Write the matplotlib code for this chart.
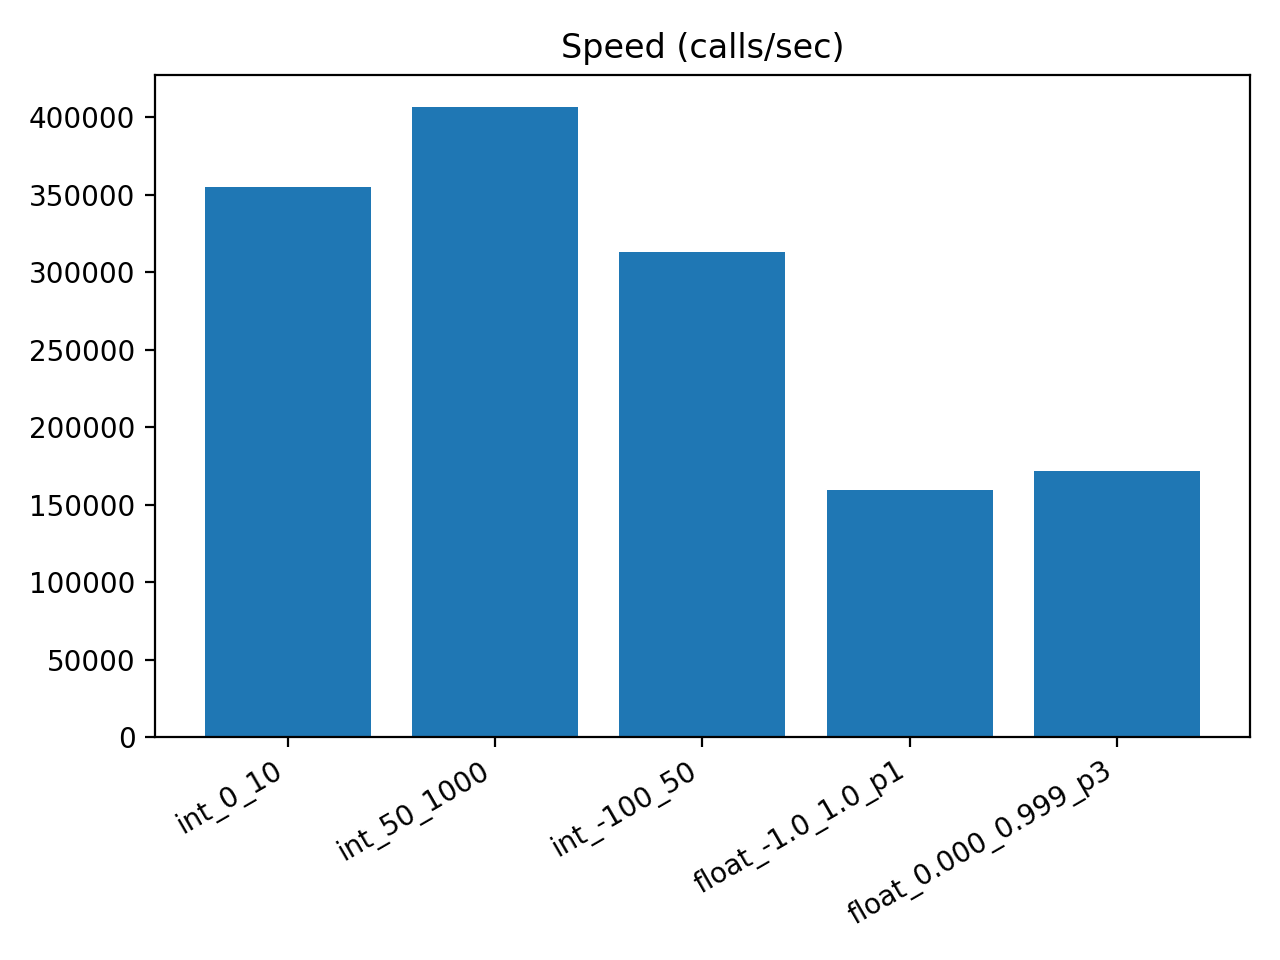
import matplotlib
matplotlib.use("Agg")
import matplotlib.pyplot as plt

names = ["int_0_10", "int_50_1000", "int_-100_50", "float_-1.0_1.0_p1", "float_0.000_0.999_p3"]
speeds = [354800, 407100, 312900, 159400, 171600]

fig, ax = plt.subplots(figsize=(6.4, 4.8), dpi=200)
ax.bar(names, speeds)
ax.set_title("Speed (calls/sec)")
fig.autofmt_xdate()
fig.subplots_adjust(left=0.121, right=0.9766, top=0.9219, bottom=0.2323)
fig.savefig("out.png")
